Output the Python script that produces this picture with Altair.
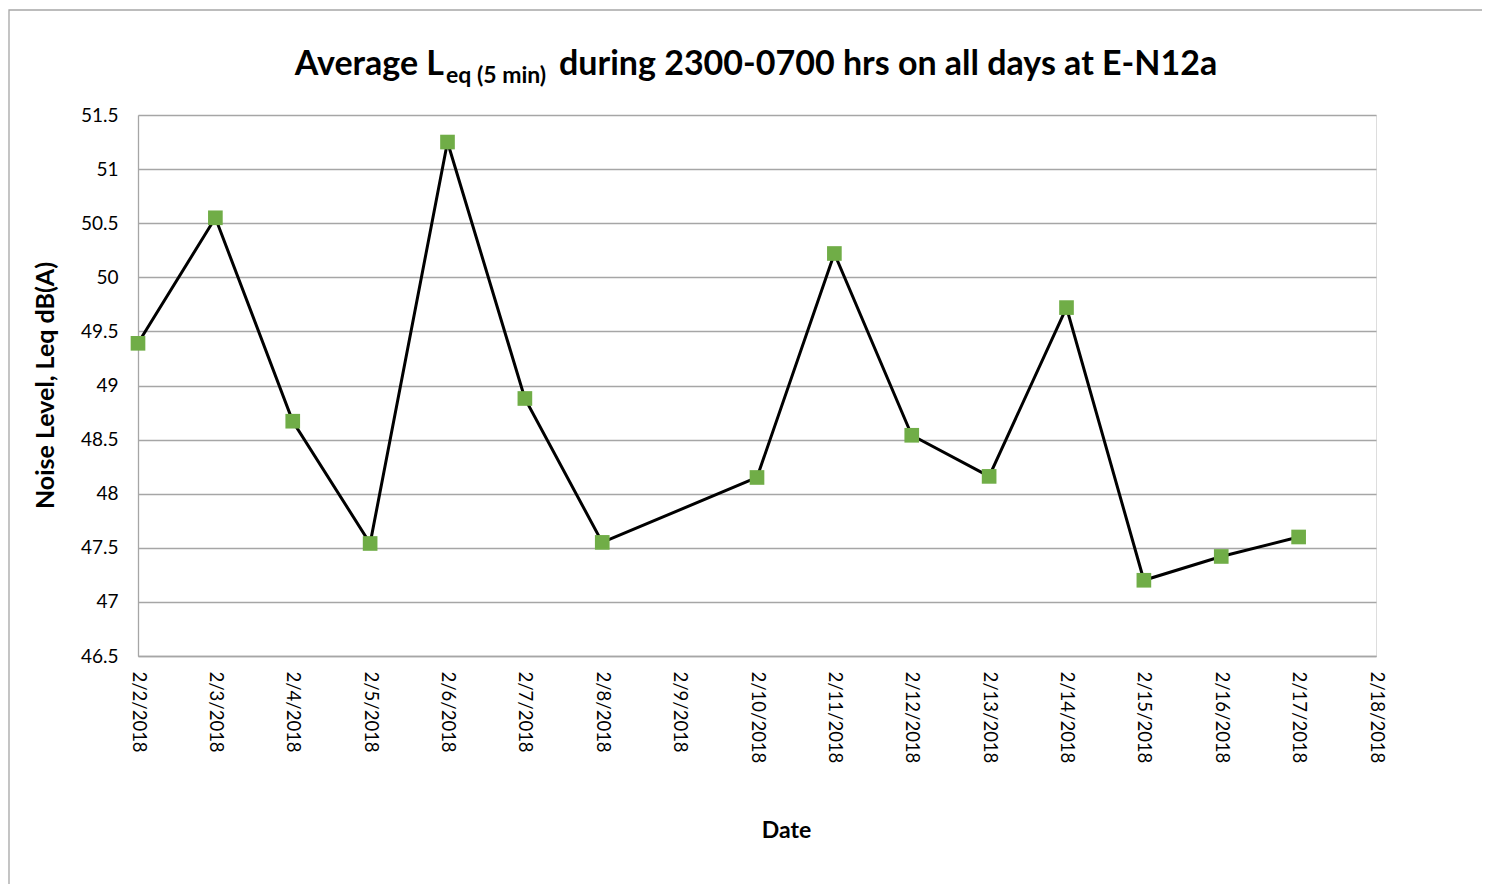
import altair as alt
import pandas as pd

dates = ["2018-02-02", "2018-02-03", "2018-02-04", "2018-02-05", "2018-02-06",
         "2018-02-07", "2018-02-08", "2018-02-10", "2018-02-11", "2018-02-12",
         "2018-02-13", "2018-02-14", "2018-02-15", "2018-02-16", "2018-02-17"]
leq = [49.39, 50.55, 48.67, 47.54, 51.25, 48.88, 47.55, 48.15, 50.22, 48.54,
       48.16, 49.72, 47.20, 47.42, 47.60]
tick_days = list(range(2, 19))

FONT = "Lato"
df = pd.DataFrame({"date": dates, "leq": leq})
one = pd.DataFrame({"a": [0]})

x_enc = alt.X(
    "date:T",
    scale=alt.Scale(type="utc",
                    domain=[alt.DateTime(year=2018, month=2, date=2, utc=True),
                            alt.DateTime(year=2018, month=2, date=18, utc=True)]),
    axis=alt.Axis(
        values=[alt.DateTime(year=2018, month=2, date=d, utc=True) for d in tick_days],
        labelExpr="utcFormat(datum.value, '%-m/%-d/%Y')",
        labelAngle=90, labelAlign="left", labelBaseline="middle",
        labelPadding=15, labelFontSize=18.5, labelFont=FONT, labelColor="#000000",
        ticks=False, grid=False, domainColor="#A6A6A6", domainWidth=1.3,
        title="Date", titleFont=FONT, titleFontSize=23, titleFontWeight="bold",
        titleColor="#000000", titleX=648, titleY=181, titleBaseline="alphabetic",
        titleAlign="center", labelOverlap=False,
    ),
)
y_enc = alt.Y(
    "leq:Q",
    scale=alt.Scale(domain=[46.5, 51.5], nice=False, zero=False),
    axis=alt.Axis(
        values=[46.5, 47, 47.5, 48, 48.5, 49, 49.5, 50, 50.5, 51, 51.5],
        labelExpr="format(datum.value, '~g')",
        labelFontSize=19, labelFont=FONT, labelColor="#000000", labelPadding=20,
        ticks=False, grid=True, gridColor="#A6A6A6", gridWidth=1.3,
        domainColor="#A6A6A6", domainWidth=1.3,
        title="Noise Level, Leq dB(A)", titleFont=FONT, titleFontSize=25,
        titleFontWeight="bold", titleColor="#000000", titleX=-80, titleY=270,
        titleAngle=270, titleBaseline="bottom", titleAlign="center",
    ),
)

base = alt.Chart(df)
line = base.mark_line(color="#000000", strokeWidth=3).encode(x=x_enc, y=y_enc)
pts = base.mark_point(shape="square", filled=True, size=215, color="#70AD47",
                      opacity=1).encode(x="date:T", y="leq:Q")

border = alt.Chart(one).mark_rect(fillOpacity=0, stroke="#A6A6A6", strokeWidth=1.3).encode(
    x=alt.value(-129), x2=alt.value(1370), y=alt.value(-105), y2=alt.value(775))

t1 = alt.Chart(one).mark_text(text="Average L", font=FONT, fontSize=34, fontWeight="bold",
                              align="right", baseline="alphabetic", color="#000000").encode(
    x=alt.value(306), y=alt.value(-40))
t2 = alt.Chart(one).mark_text(text="eq (5 min)", font=FONT, fontSize=23, fontWeight="bold",
                              align="left", baseline="alphabetic", color="#000000").encode(
    x=alt.value(308), y=alt.value(-32))
t3 = alt.Chart(one).mark_text(text="during 2300-0700 hrs on all days at E-N12a", font=FONT,
                              fontSize=34, fontWeight="bold", align="left",
                              baseline="alphabetic", color="#000000").encode(
    x=alt.value(421), y=alt.value(-40))

chart = alt.layer(border, line, pts, t1, t2, t3).properties(
    width=1238, height=541,
    autosize=alt.AutoSizeParams(type="none"),
    padding={"left": 130, "top": 107, "right": 106, "bottom": 228},
).configure_view(stroke=None).configure(background="white")

chart.save("out.html", embed_options={"renderer": "svg", "actions": False})
